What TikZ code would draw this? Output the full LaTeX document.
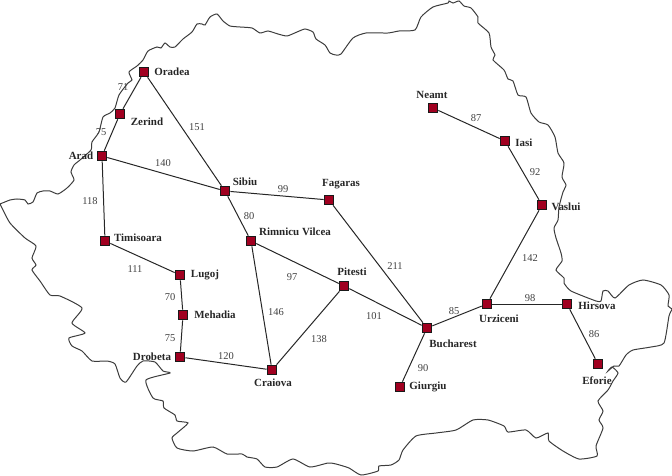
\documentclass[tikz,border=0pt]{standalone}
\usepackage{fontspec}
\setmainfont{Liberation Serif}
\definecolor{citycolor}{HTML}{A00020}
\definecolor{bordercolor}{HTML}{3C3C3C}
\definecolor{numcolor}{HTML}{404040}
\tikzset{
  city/.style={rectangle,draw=black!90,fill=citycolor,line width=1.1pt,minimum size=9.5bp,inner sep=0pt},
  cityname/.style={font=\fontsize{11}{12}\selectfont\bfseries,text=black!85,inner sep=0pt},
  road/.style={line width=1pt,draw=black!85},
  dist/.style={font=\fontsize{10.5}{11}\selectfont,text=numcolor,inner sep=0pt}
}
\begin{document}
\begin{tikzpicture}[x=1bp,y=-1bp]
  \useasboundingbox (0,0) rectangle (672,476);
  \draw[bordercolor,line width=1pt] plot[smooth,tension=0.35] coordinates {
    (0,204) (10,200) (17,199) (25,200) (28,204) (33,202) (37,193) (43,191) (50,191) (58,194)
    (67,188) (74,180) (71,172) (74,165) (80,160) (91,150) (92,142) (99,132) (103,117) (110,113)
    (115,108) (119,95) (128,83) (132,80) (129,72) (137,66) (143,60) (148,51) (157,47) (161,48)
    (165,43) (170,47) (175,47) (183,39) (192,32) (197,24) (202,24) (205,25) (210,17) (217,14)
    (223,21) (230,26) (240,27) (252,28) (260,33) (268,31) (278,34) (287,36) (297,32) (305,29)
    (313,32) (316,39) (325,45) (330,53) (336,55) (341,54) (353,38) (366,33) (388,33) (399,31)
    (415,30) (421,17) (433,7) (448,3) (449,1) (453,3) (459,1) (464,6) (471,8) (478,17)
    (478,23) (489,33) (491,47) (495,55) (493,60) (504,70) (508,79) (513,81) (518,95) (526,97)
    (531,113) (539,122) (548,125) (555,137) (558,153) (564,163) (562,177) (566,185) (563,192) (559,207)
    (558,220) (554,228) (556,238) (561,253) (562,261) (556,270) (564,278) (564,283) (571,291) (596,301)
    (601,301) (603,291) (608,291) (615,298) (629,285) (643,280) (661,285) (669,295) (668,306) (672,309)
    (669,316) (664,343) (651,347) (633,350) (626,355) (619,366) (614,366) (608,371) (612,367) (618,373)
    (613,381) (608,390) (598,401) (603,411) (599,420) (603,428) (596,446) (597,456) (579,459) (563,451)
    (549,441) (548,433) (536,438) (526,430) (508,432) (504,426) (488,420) (473,420) (456,430) (436,433)
    (416,436) (403,450) (399,460) (391,465) (379,466) (378,471) (361,475) (349,468) (336,464) (328,463)
    (310,467) (293,459) (277,467) (265,467) (257,459) (247,457) (242,454) (227,454) (213,447) (193,451)
    (177,448) (172,438) (177,433) (188,423) (177,421) (175,415) (164,408) (163,401) (153,398) (146,380)
    (170,373) (163,371) (155,362) (143,361) (137,366) (126,382) (120,378) (115,364) (107,361) (92,361)
    (82,351) (72,346) (69,338) (85,333) (72,323) (82,308) (60,296) (50,295) (40,281) (32,270)
    (36,265) (32,258) (36,246) (25,238) (10,223) (2,208) (0,204)};
  % cities
  \foreach \c/\x/\y/\lx/\ly/\t in {
    oradea/144/72/172/72/Oradea, zerind/120/114/147/122/Zerind, arad/102/156/81/156/Arad,
    sibiu/225/191/245/182/Sibiu, fagaras/329/200/341/184/Fagaras, timisoara/105/241/138/238/Timisoara,
    rimnicu/251/241/295/232/Rimnicu Vilcea, lugoj/180/275/205/275/Lugoj, mehadia/183/315/215/315/Mehadia,
    drobeta/180/357/152/357/Drobeta, craiova/272/370/273/383/Craiova, pitesti/344/286/352/272/Pitesti,
    bucharest/427/328/453/344/Bucharest, giurgiu/400/387/428/387/Giurgiu, urziceni/487/304/499/319/Urziceni,
    hirsova/567/304/597/306/Hirsova, eforie/598/364/597/381/Eforie, vaslui/542/205/566/207/Vaslui,
    iasi/505/141/524/143/Iasi, neamt/433/108/432/95/Neamt}
  {
    \node[city] (\c) at (\x,\y) {};
    \node[cityname] (\c-name) at (\lx,\ly) {\t};
  }
  % roads
  \foreach \a/\b/\d/\lx/\ly in {
    oradea/zerind/71/123/87, zerind/arad/75/101/132, oradea/sibiu/151/197/127, arad/sibiu/140/163/163,
    arad/timisoara/118/90/201, sibiu/fagaras/99/283/189, sibiu/rimnicu/80/249/216, timisoara/lugoj/111/135/269,
    lugoj/mehadia/70/170/297, mehadia/drobeta/75/170/338, rimnicu/pitesti/97/292/277, rimnicu/craiova/146/276/312,
    drobeta/craiova/120/226/356, pitesti/craiova/138/319/339, fagaras/bucharest/211/395/266, pitesti/bucharest/101/374/316,
    bucharest/urziceni/85/454/311, bucharest/giurgiu/90/423/368, urziceni/hirsova/98/530/298, urziceni/vaslui/142/530/258,
    hirsova/eforie/86/594/334, neamt/iasi/87/476/118, iasi/vaslui/92/535/172}
  {
    \draw[road] (\a) -- (\b);
    \node[dist] (\a-\b) at (\lx,\ly) {\d};
  }
\end{tikzpicture}
\end{document}
